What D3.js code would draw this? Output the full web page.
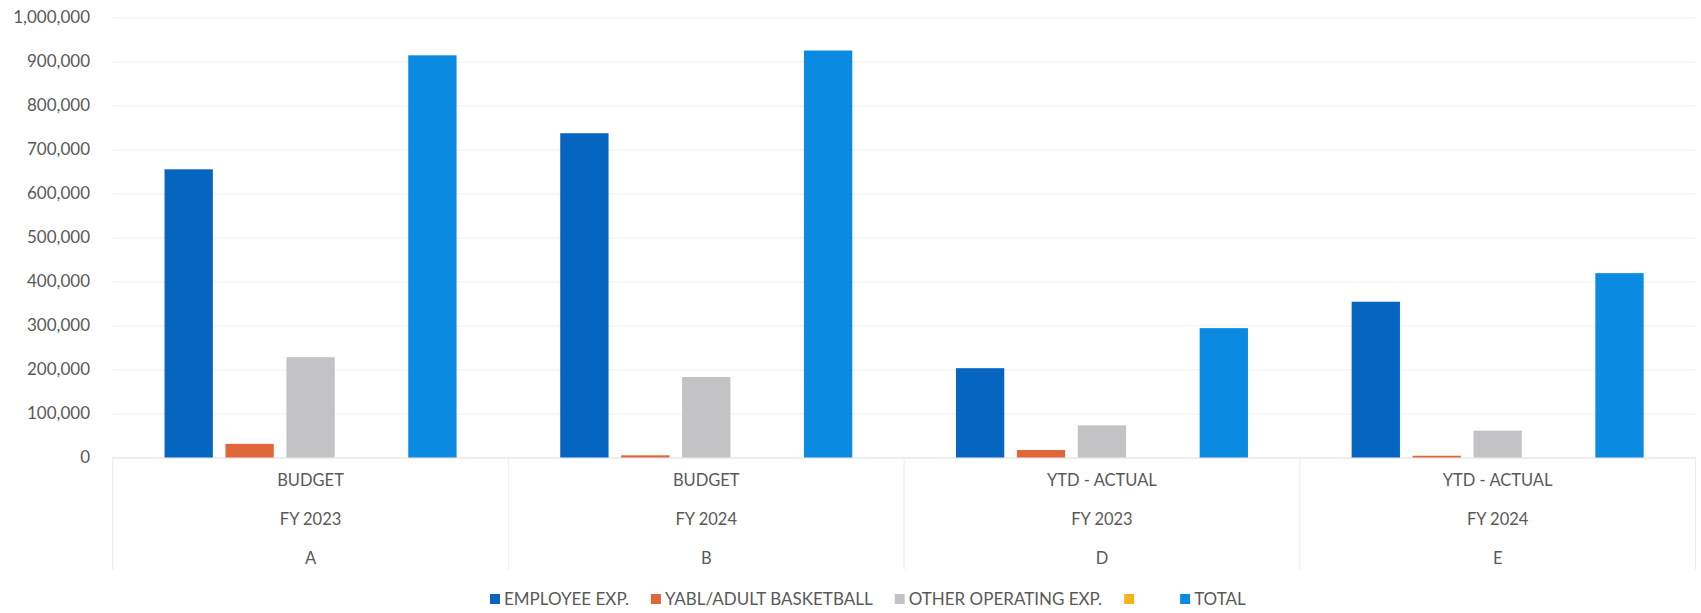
<!DOCTYPE html>
<html>
<head>
<meta charset="utf-8">
<script src="https://cdn.jsdelivr.net/npm/d3@7"></script>
<style>
  html, body { margin: 0; padding: 0; background: #ffffff; }
  svg { display: block; }
  text { font-family: Lato, "Open Sans", sans-serif; fill: #595959; }
</style>
</head>
<body>
<svg id="chart" width="1701" height="613"></svg>
<script>
// Category axis: three label rows per column
const categories   = ["A", "B", "D", "E"];
const periodLabels = ["BUDGET", "BUDGET", "YTD - ACTUAL", "YTD - ACTUAL"];
const yearLabels   = ["FY 2023", "FY 2024", "FY 2023", "FY 2024"];

// Series (one value per category)
const seriesNames    = ["EMPLOYEE EXP.", "YABL/ADULT BASKETBALL", "OTHER OPERATING EXP.", "", "TOTAL"];
const employeeExp    = [655000, 737000, 203000, 354000];
const yablBasketball = [31000, 5000, 17000, 4000];
const otherOperating = [228000, 183000, 73000, 61000];
const unnamedSeries  = [0, 0, 0, 0];
const totals         = [914000, 925000, 294000, 419000];

// Value axis ticks
const yTicks = [0, 100000, 200000, 300000, 400000, 500000, 600000, 700000, 800000, 900000, 1000000];

const seriesValues = [employeeExp, yablBasketball, otherOperating, unnamedSeries, totals];
const seriesColors = ["#0765c2", "#e0673a", "#c3c3c5", "#f2b51e", "#0a8be1"];

const svg = d3.select("#chart");

const plot = { left: 112.7, right: 1695.5, top: 17.5, bottom: 457.5 };

const x0 = d3.scaleBand()
  .domain(categories)
  .range([plot.left, plot.right])
  .paddingInner(0)
  .paddingOuter(0);

const clusterPad = x0.bandwidth() * 0.131;
const x1 = d3.scaleBand()
  .domain(d3.range(seriesNames.length))
  .range([clusterPad, x0.bandwidth() - clusterPad])
  .paddingInner(0.207)
  .paddingOuter(0);

const y = d3.scaleLinear()
  .domain([0, 1000000])
  .range([plot.bottom, plot.top]);

// Horizontal gridlines
svg.append("g")
  .selectAll("line")
  .data(yTicks)
  .join("line")
  .attr("x1", plot.left)
  .attr("x2", plot.right)
  .attr("y1", d => y(d) + 0.5)
  .attr("y2", d => y(d) + 0.5)
  .attr("stroke", "#efefef")
  .attr("stroke-width", 1);

// Value axis labels
const yAxis = svg.append("g")
  .attr("transform", "translate(90,0)")
  .call(d3.axisLeft(y).tickValues(yTicks).tickFormat(d3.format(",")).tickSize(0).tickPadding(0));
yAxis.select(".domain").remove();
yAxis.selectAll("text")
  .attr("font-size", 17)
  .attr("font-family", "Lato, 'Open Sans', sans-serif")
  .attr("fill", "#595959");

// Category axis baseline and group separators
svg.append("line")
  .attr("x1", plot.left).attr("x2", plot.right)
  .attr("y1", plot.bottom + 0.5).attr("y2", plot.bottom + 0.5)
  .attr("stroke", "#e4e4e4");

const sepXs = categories.map(c => x0(c)).concat([x0(categories[categories.length - 1]) + x0.bandwidth()]);
svg.append("g")
  .selectAll("line")
  .data(sepXs)
  .join("line")
  .attr("x1", d => d).attr("x2", d => d)
  .attr("y1", plot.bottom).attr("y2", 570)
  .attr("stroke", "#ececec");

// Bars
const groups = svg.append("g")
  .selectAll("g")
  .data(categories)
  .join("g")
  .attr("transform", c => `translate(${x0(c)},0)`);

groups.selectAll("rect")
  .data((c, ci) => seriesValues.map((vals, si) => ({ si, v: vals[ci] })))
  .join("rect")
  .attr("x", d => x1(d.si))
  .attr("width", x1.bandwidth())
  .attr("y", d => y(Math.max(0, d.v)))
  .attr("height", d => Math.abs(y(d.v) - y(0)))
  .attr("fill", d => seriesColors[d.si]);

// Category labels
const labelRows = [
  { labels: periodLabels, y: 480 },
  { labels: yearLabels, y: 519 },
  { labels: categories, y: 558 }
];
labelRows.forEach(row => {
  svg.append("g")
    .selectAll("text")
    .data(categories)
    .join("text")
    .attr("x", c => x0(c) + x0.bandwidth() / 2)
    .attr("y", row.y)
    .attr("dy", "0.35em")
    .attr("text-anchor", "middle")
    .attr("font-size", 16.5)
    .text((c, i) => row.labels[i]);
});

// Legend
const legend = svg.append("g").attr("transform", "translate(0,599)");
let cursor = 490;
const swatch = 10, swatchGap = 4, itemGap = 22;
seriesNames.forEach((name, i) => {
  const item = legend.append("g").attr("transform", `translate(${cursor},0)`);
  item.append("rect")
    .attr("x", 0).attr("y", -swatch / 2)
    .attr("width", swatch).attr("height", swatch)
    .attr("fill", seriesColors[i]);
  const t = item.append("text")
    .attr("x", swatch + swatchGap)
    .attr("y", 0)
    .attr("dy", "0.35em")
    .attr("font-size", 17)
    .text(name);
  const w = name ? t.node().getComputedTextLength() : 20;
  cursor += swatch + swatchGap + w + itemGap;
});
</script>
</body>
</html>
